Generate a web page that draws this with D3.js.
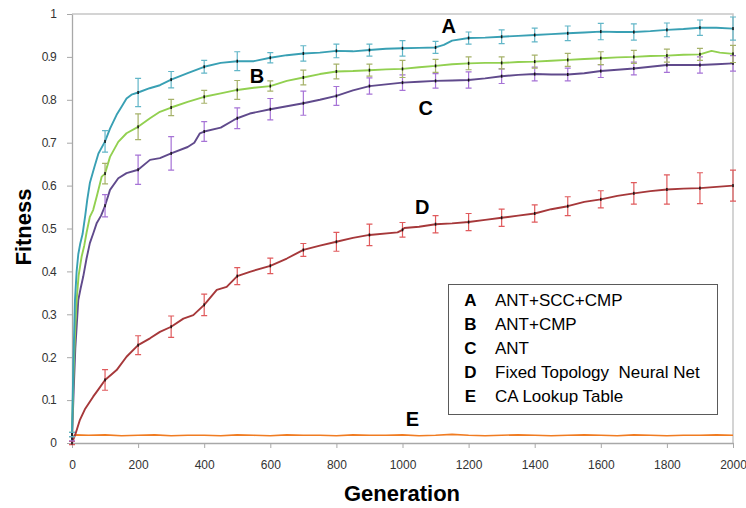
<html lang="en">
<head>
  <meta charset="UTF-8"/>
  <title>Fitness vs generation</title>
  <script src="https://d3js.org/d3.v7.min.js"></script>
  <style>
    body { margin: 0; background: #fff; }
    svg { font-family: 'Liberation Sans', Arial, sans-serif; }
    .tick text { fill: #333; }
    .label { font-weight: bold; fill: #000; }
  </style>
</head>
<body>
  <svg width="746" height="508"></svg>

  <script>

  // [generation, fitness]
  const seriesA = [[0,0.02],[4,0.18],[9,0.333],[14,0.40],[19,0.44],[25,0.465],[32,0.487],[40,0.53],[46,0.566],[54,0.606],[68,0.644],[80,0.675],[100,0.703],[115,0.733],[135,0.765],[150,0.784],[165,0.803],[180,0.812],[200,0.817],[235,0.827],[266,0.834],[300,0.847],[350,0.862],[400,0.877],[450,0.886],[500,0.890],[550,0.890],[600,0.898],[650,0.904],[700,0.908],[750,0.910],[800,0.914],[850,0.913],[900,0.916],[950,0.919],[1000,0.920],[1050,0.921],[1100,0.922],[1125,0.928],[1150,0.938],[1200,0.944],[1250,0.945],[1300,0.947],[1350,0.949],[1400,0.951],[1450,0.953],[1500,0.955],[1550,0.957],[1600,0.959],[1650,0.958],[1700,0.958],[1750,0.960],[1800,0.963],[1850,0.965],[1900,0.968],[1950,0.968],[2000,0.966]];

  const seriesB = [[0,0.02],[5,0.17],[10,0.27],[14,0.333],[20,0.39],[29,0.434],[37,0.46],[44,0.49],[54,0.527],[64,0.543],[75,0.575],[90,0.621],[100,0.628],[115,0.667],[140,0.702],[165,0.722],[200,0.737],[236,0.757],[266,0.772],[300,0.782],[350,0.795],[400,0.807],[450,0.815],[500,0.823],[550,0.828],[600,0.832],[650,0.844],[700,0.852],[750,0.860],[800,0.866],[850,0.867],[900,0.869],[950,0.871],[1000,0.872],[1050,0.876],[1100,0.879],[1150,0.883],[1200,0.885],[1250,0.886],[1300,0.886],[1350,0.888],[1400,0.889],[1450,0.891],[1500,0.893],[1550,0.895],[1600,0.897],[1650,0.899],[1700,0.900],[1750,0.902],[1800,0.903],[1850,0.905],[1900,0.906],[1935,0.914],[1960,0.910],[2000,0.907]];

  const seriesC = [[0,0.01],[5,0.12],[10,0.22],[19,0.333],[26,0.36],[34,0.388],[44,0.43],[54,0.466],[65,0.49],[75,0.513],[88,0.53],[100,0.553],[115,0.59],[140,0.617],[165,0.629],[200,0.637],[236,0.66],[266,0.664],[300,0.675],[350,0.69],[370,0.70],[387,0.722],[400,0.726],[450,0.735],[490,0.753],[500,0.757],[538,0.768],[600,0.778],[650,0.785],[700,0.792],[750,0.800],[800,0.809],[850,0.822],[900,0.832],[950,0.836],[1000,0.840],[1050,0.842],[1100,0.844],[1150,0.845],[1200,0.846],[1250,0.850],[1300,0.855],[1350,0.858],[1400,0.860],[1450,0.859],[1500,0.859],[1550,0.862],[1600,0.867],[1650,0.870],[1700,0.873],[1750,0.877],[1800,0.881],[1850,0.881],[1900,0.881],[1950,0.883],[2000,0.885]];

  const seriesD = [[0,0.0],[10,0.02],[24,0.054],[40,0.08],[64,0.108],[80,0.125],[100,0.147],[135,0.17],[165,0.201],[200,0.228],[236,0.244],[266,0.259],[300,0.271],[337,0.29],[367,0.298],[400,0.322],[438,0.357],[468,0.364],[500,0.389],[538,0.399],[600,0.413],[650,0.43],[700,0.45],[750,0.46],[800,0.469],[850,0.478],[900,0.485],[985,0.491],[1000,0.497],[1005,0.501],[1050,0.504],[1100,0.51],[1150,0.512],[1200,0.515],[1250,0.52],[1300,0.525],[1350,0.53],[1400,0.535],[1450,0.545],[1500,0.552],[1550,0.562],[1600,0.568],[1650,0.576],[1700,0.582],[1750,0.587],[1800,0.591],[1850,0.593],[1900,0.594],[1950,0.597],[2000,0.60]];

  const seriesE = [[0,0.013],[10,0.019],[50,0.018],[100,0.019],[150,0.017],[200,0.018],[250,0.019],[300,0.017],[350,0.018],[400,0.018],[450,0.017],[500,0.019],[550,0.018],[600,0.017],[650,0.019],[700,0.018],[750,0.018],[800,0.017],[850,0.019],[900,0.018],[950,0.018],[1000,0.019],[1050,0.017],[1100,0.018],[1150,0.020],[1200,0.018],[1250,0.017],[1300,0.018],[1350,0.019],[1400,0.018],[1450,0.017],[1500,0.018],[1550,0.019],[1600,0.018],[1650,0.017],[1700,0.019],[1750,0.018],[1800,0.017],[1850,0.018],[1900,0.018],[1950,0.019],[2000,0.018]];

  // error bars every 100 generations (+/-)
  const errGens = [0,100,200,300,400,500,600,700,800,900,1000,1100,1200,1300,1400,1500,1600,1700,1800,1900,2000];
  const errA = [0.005,0.025,0.033,0.019,0.015,0.022,0.012,0.018,0.016,0.014,0.018,0.014,0.014,0.016,0.016,0.017,0.019,0.019,0.016,0.018,0.027];
  const errB = [0.005,0.024,0.030,0.019,0.015,0.022,0.012,0.017,0.017,0.014,0.020,0.015,0.015,0.014,0.015,0.015,0.015,0.015,0.015,0.014,0.020];
  const errC = [0.005,0.026,0.034,0.039,0.023,0.024,0.025,0.028,0.022,0.019,0.018,0.017,0.019,0.017,0.016,0.015,0.015,0.015,0.017,0.019,0.018];
  const errD = [0.004,0.024,0.022,0.025,0.025,0.020,0.018,0.015,0.022,0.025,0.017,0.020,0.020,0.020,0.020,0.022,0.020,0.025,0.034,0.036,0.036];

  const xTicks = [0,200,400,600,800,1000,1200,1400,1600,1800,2000];
  const yTicks = [0,0.1,0.2,0.3,0.4,0.5,0.6,0.7,0.8,0.9,1];

  const legendKeys = ['A', 'B', 'C', 'D', 'E'];
  const legendNames = ['ANT+SCC+CMP', 'ANT+CMP', 'ANT', 'Fixed Topology  Neural Net', 'CA Lookup Table'];

  const svg = d3.select('svg');

  const x = d3.scaleLinear().domain([0, 2000]).range([72, 733]);
  const y = d3.scaleLinear().domain([0, 1]).range([443, 14]);

  // frame top / right
  svg.append('path')
    .attr('d', `M${x(0)},${y(1)}H${x(2000)}V${y(0)}`)
    .attr('fill', 'none')
    .attr('stroke', '#c6c6c6')
    .attr('stroke-width', 1.5);

  const yAxis = svg.append('g')
    .attr('transform', `translate(${x(0)},0)`)
    .call(d3.axisLeft(y).tickValues(yTicks).tickSize(5).tickPadding(11).tickSizeOuter(0)
      .tickFormat(d => String(+d.toFixed(1))));

  const xAxis = svg.append('g')
    .attr('transform', `translate(0,${y(0)})`)
    .call(d3.axisBottom(x).tickValues(xTicks).tickSize(5).tickPadding(12).tickSizeOuter(0)
      .tickFormat(d3.format('d')));

  [xAxis, yAxis].forEach(g => {
    g.select('.domain').attr('stroke', '#a8a8a8').attr('stroke-width', 1.3);
    g.selectAll('.tick line').attr('stroke', '#a8a8a8');
    g.selectAll('.tick text').attr('font-size', 12).attr('font-family', "'Liberation Sans', Arial, sans-serif");
  });
  yAxis.selectAll('.tick text').attr('letter-spacing', -0.8);

  const line = d3.line()
    .x(d => x(d[0]))
    .y(d => y(d[1]));

  const series = [
    { data: seriesE, err: null, color: '#f07c22', errColor: null, width: 1.6 },
    { data: seriesD, err: errD, color: '#a6383a', errColor: '#e05a5c', width: 1.9 },
    { data: seriesC, err: errC, color: '#604a8c', errColor: '#a673d6', width: 1.9 },
    { data: seriesB, err: errB, color: '#92d050', errColor: '#a6b26a', width: 1.9 },
    { data: seriesA, err: errA, color: '#39a0b4', errColor: '#62b6c8', width: 1.9 }
  ];

  series.forEach(s => {
    svg.append('path')
      .datum(s.data)
      .attr('fill', 'none')
      .attr('stroke', s.color)
      .attr('stroke-width', s.width)
      .attr('stroke-linejoin', 'round')
      .attr('d', line);
  });

  series.filter(s => s.err).forEach(s => {
    const lookup = new Map(s.data);
    const bars = errGens.map((g, i) => ({ g, v: lookup.get(g), e: s.err[i] }));
    const grp = svg.append('g');
    bars.forEach(b => {
      const cx = x(b.g);
      grp.append('path')
        .attr('d', `M${cx - 3},${y(b.v + b.e)}H${cx + 3}M${cx},${y(b.v + b.e)}V${y(b.v - b.e)}M${cx - 3},${y(b.v - b.e)}H${cx + 3}`)
        .attr('fill', 'none')
        .attr('stroke', s.errColor)
        .attr('stroke-width', 1.2);
      grp.append('rect')
        .attr('x', cx - 0.75)
        .attr('y', y(b.v) - 1.5)
        .attr('width', 1.5)
        .attr('height', 3)
        .attr('fill', '#111');
    });
  });

  // curve labels
  const curveLabels = [
    { t: 'A', g: 1140, v: 0.955 },
    { t: 'B', g: 560, v: 0.84 },
    { t: 'C', g: 1070, v: 0.765 },
    { t: 'D', g: 1060, v: 0.533 },
    { t: 'E', g: 1030, v: 0.04 }
  ];
  svg.selectAll('.curve-label')
    .data(curveLabels)
    .enter()
    .append('text')
    .attr('class', 'label')
    .attr('x', d => x(d.g))
    .attr('y', d => y(d.v))
    .attr('text-anchor', 'middle')
    .attr('font-size', 20)
    .text(d => d.t);

  // legend
  const legend = svg.append('g').attr('transform', 'translate(448.5,284.5)');
  legend.append('rect')
    .attr('width', 269)
    .attr('height', 130)
    .attr('fill', '#fff')
    .attr('stroke', '#5a5a5a')
    .attr('stroke-width', 1);

  legendKeys.forEach((k, i) => {
    legend.append('text')
      .attr('class', 'label')
      .attr('x', 22)
      .attr('y', 21 + i * 24.2)
      .attr('text-anchor', 'middle')
      .attr('font-size', 17)
      .text(k);
    legend.append('text')
      .attr('x', 46.5)
      .attr('y', 21 + i * 24.2)
      .attr('font-size', 17)
      .attr('fill', '#000')
      .style('white-space', 'pre')
      .text(legendNames[i]);
  });

  svg.append('text')
    .attr('class', 'label')
    .attr('x', 402)
    .attr('y', 501)
    .attr('text-anchor', 'middle')
    .attr('font-size', 22)
    .text('Generation');

  svg.append('text')
    .attr('class', 'label')
    .attr('transform', 'translate(31,227) rotate(-90)')
    .attr('text-anchor', 'middle')
    .attr('font-size', 22)
    .text('Fitness');

  </script>
</body>
</html>
